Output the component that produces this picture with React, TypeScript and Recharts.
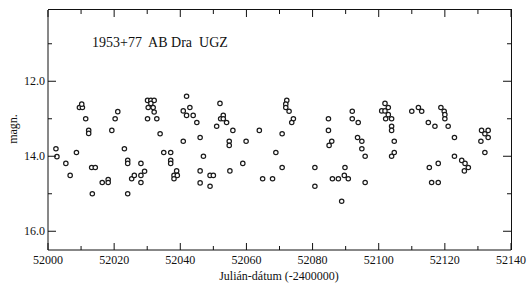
import React from 'react';
import { ScatterChart, Scatter, XAxis, YAxis } from 'recharts';

// Julian date (-2400000) of each estimate
const jd = [
  52002.4, 52002.7, 52005.4, 52006.7, 52008.6, 52009.5, 52010.4, 52010.2, 52011.4, 52012.3,
  52012.3, 52013.2, 52014.3, 52013.4, 52016.4, 52018.2, 52018.2, 52019.3, 52020.3, 52021.1,
  52023.1, 52024.1, 52024.1, 52024.1, 52025.3, 52026.1, 52028.1, 52028.1, 52028.1, 52029.2,
  52030.1, 52032.9, 52030.1, 52031.1, 52032.1, 52031.1, 52030.3, 52031.8, 52032.1, 52033.9,
  52035.0,
  52041.9, 52040.9, 52042.9, 52041.9, 52043.9, 52045.0, 52040.9, 52046.0, 52037.1, 52037.1,
  52037.1, 52038.9, 52038.1, 52039.1, 52038.1, 52047.0, 52046.0, 52046.0, 52049.0, 52050.0,
  52049.0, 52052.0, 52053.0, 52052.2, 52053.0, 52051.0, 52054.0, 52055.9, 52054.8, 52054.8,
  52059.9, 52058.9, 52055.0, 52063.9, 52068.9, 52064.9, 52067.9,
  52072.2, 52071.9, 52071.9, 52072.9, 52074.2, 52073.7, 52070.8, 52070.8, 52080.7, 52080.7,
  52084.8, 52084.8, 52085.8, 52085.0, 52086.0, 52087.8, 52089.8, 52089.6, 52090.8, 52088.8,
  52092.0, 52092.0, 52093.8, 52093.6, 52094.9, 52094.9, 52095.9, 52095.9, 52101.9, 52102.9,
  52100.9, 52101.9, 52102.9, 52103.9, 52102.1, 52103.9, 52103.9, 52104.7, 52104.7, 52103.9,
  52110.0, 52112.0, 52113.0, 52115.0, 52117.0, 52115.3, 52118.0, 52116.0, 52118.0, 52118.8,
  52119.8, 52120.0, 52120.0, 52121.0, 52122.9, 52122.9, 52125.1, 52126.1, 52127.1, 52125.9,
  52131.1, 52133.1, 52132.1, 52130.9, 52133.1, 52132.1,
];

// visual magnitude of each estimate
const mag = [
  13.8, 14.01, 14.19, 14.51, 13.9, 12.7, 12.7, 12.61, 13.0, 13.31,
  13.39, 14.3, 14.3, 15.0, 14.7, 14.62, 14.7, 13.31, 13.0, 12.81,
  13.8, 14.11, 14.19, 15.0, 14.6, 14.51, 14.19, 14.51, 14.7, 14.4,
  13.0, 13.0, 12.51, 12.51, 12.51, 12.59, 12.7, 12.7, 12.82, 13.4,
  13.9,
  12.4, 12.79, 12.7, 12.91, 12.91, 13.1, 13.6, 13.5, 13.9, 14.11,
  14.19, 14.39, 14.51, 14.51, 14.6, 14.0, 14.39, 14.71, 14.51, 14.51,
  14.8, 12.59, 12.91, 13.0, 13.0, 13.2, 13.1, 13.31, 13.6, 13.71,
  13.6, 14.19, 14.39, 13.31, 13.9, 14.6, 14.6,
  12.51, 12.61, 12.7, 12.8, 13.0, 13.1, 13.4, 14.3, 14.3, 14.8,
  13.0, 13.31, 13.6, 13.71, 14.6, 14.6, 14.3, 14.51, 14.6, 15.2,
  12.8, 13.0, 13.1, 13.5, 13.6, 13.8, 14.0, 14.7, 12.59, 12.7,
  12.79, 12.79, 12.89, 13.0, 13.0, 13.2, 13.31, 13.6, 13.9, 14.0,
  12.8, 12.7, 12.8, 13.1, 13.2, 14.3, 14.19, 14.7, 14.7, 12.7,
  12.8, 12.89, 13.0, 13.2, 13.5, 14.0, 14.11, 14.19, 14.3, 14.39,
  13.31, 13.31, 13.4, 13.6, 13.5, 13.9,
];

const xTicks = [52000, 52010, 52020, 52030, 52040, 52050, 52060, 52070, 52080, 52090, 52100, 52110, 52120, 52130, 52140];
const yTicks = [11, 12, 13, 14, 15, 16];

const points = jd.map((x, i) => ({ x, y: mag[i] }));

const FONT = 'Liberation Serif, Times New Roman, serif';
const INK = '#111';

// plot box size (chart 531x283, margins below)
const M = { top: 10, right: 20, left: 0, bottom: 0 };
const Y_AXIS_W = 48;
const X_AXIS_H = 33;
const PLOT_W = 531 - M.left - M.right - Y_AXIS_W;
const PLOT_H = 283 - M.top - M.bottom - X_AXIS_H;

// bottom tick also draws its mirrored top tick
const BottomTick = ({ x, y, payload }: any) => {
  const major = payload.value % 20 === 0;
  const len = major ? 7 : 4;
  const top = y - PLOT_H;
  return (
    <g>
      <line x1={x} x2={x} y1={y} y2={y - len} stroke={INK} />
      <line x1={x} x2={x} y1={top} y2={top + len} stroke={INK} />
      {major && (
        <text x={x} y={y + 14} textAnchor="middle" fontFamily={FONT} fontSize={12} fill={INK}>
          {payload.value}
        </text>
      )}
    </g>
  );
};

// left tick also draws its mirrored right tick
const LeftTick = ({ x, y, payload }: any) => {
  const major = payload.value % 2 === 0;
  const len = major ? 8 : 4;
  const right = x + PLOT_W;
  return (
    <g>
      <line x1={x} x2={x + len} y1={y} y2={y} stroke={INK} />
      <line x1={right} x2={right - len} y1={y} y2={y} stroke={INK} />
      {major && (
        <text x={x - 3} y={y + 4} textAnchor="end" fontFamily={FONT} fontSize={12} fill={INK}>
          {payload.value.toFixed(1)}
        </text>
      )}
    </g>
  );
};

const Dot = ({ cx, cy }: any) => (
  <circle cx={cx} cy={cy} r={2.2} fill="#fff" stroke="#1a1a1a" strokeWidth={1.2} />
);

export default function App() {
  return (
    <div style={{ position: 'absolute', left: 0, top: 0, width: 531, height: 283, background: '#fff' }}>
      <ScatterChart width={531} height={283} margin={M}>
        <XAxis
          type="number"
          dataKey="x"
          domain={[52000, 52140]}
          ticks={xTicks}
          allowDataOverflow
          interval={0}
          height={X_AXIS_H}
          tickSize={0}
          tickMargin={0}
          tickLine={false}
          tick={<BottomTick />}
          axisLine={{ stroke: INK }}
        />
        <YAxis
          type="number"
          dataKey="y"
          reversed
          domain={[10.1, 16.5]}
          ticks={yTicks}
          allowDataOverflow
          interval={0}
          width={Y_AXIS_W}
          tickSize={0}
          tickMargin={0}
          tickLine={false}
          tick={<LeftTick />}
          axisLine={{ stroke: INK }}
        />
        <Scatter data={points} shape={<Dot />} isAnimationActive={false} />
        <text x={92} y={47} fontFamily={FONT} fontSize={14} fill={INK} style={{ whiteSpace: 'pre' }}>
          {'1953+77  AB Dra  UGZ'}
        </text>
        <text x={17} y={129} transform="rotate(-90 17 129)" textAnchor="middle" fontFamily={FONT} fontSize={12} fill={INK}>
          magn.
        </text>
        <text x={279} y={280} textAnchor="middle" fontFamily={FONT} fontSize={12} fill={INK}>
          Julián-dátum (-2400000)
        </text>
      </ScatterChart>
      {/* top and right edges of the plot frame */}
      <div
        style={{
          position: 'absolute',
          left: M.left + Y_AXIS_W,
          top: M.top - 1,
          width: PLOT_W + 1,
          height: PLOT_H + 1,
          boxSizing: 'border-box',
          borderTop: `1px solid ${INK}`,
          borderRight: `1px solid ${INK}`,
          pointerEvents: 'none',
        }}
      />
    </div>
  );
}
